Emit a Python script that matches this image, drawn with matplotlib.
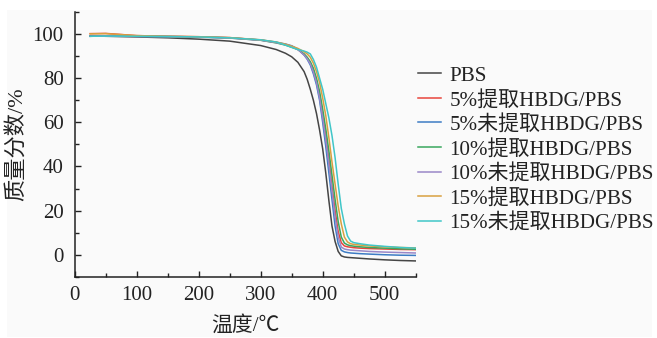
import matplotlib
matplotlib.use("Agg")
import matplotlib.pyplot as plt
from matplotlib.patches import Rectangle

plt.rcParams['font.family'] = ['Liberation Serif', 'Noto Sans CJK SC', 'DejaVu Sans']

# temperature grid (°C)
temp = [25, 50, 100, 150, 200, 250, 300, 325, 340, 350, 360, 370, 375, 380, 385, 390, 395, 400,
        405, 410, 415, 420, 425, 430, 435, 440, 445, 450, 460, 475, 500, 525, 550]

# mass fraction (%)
pbs = [99.2, 99.0, 98.7, 98.3, 97.7, 96.8, 94.8, 93.0, 91.3, 89.7, 87.2, 83.0, 79.5, 75.0, 70.0,
       64.0, 56.5, 48.0, 37.0, 24.5, 13.0, 6.0, 1.5, -0.5, -1.0, -1.2, -1.3, -1.4, -1.6, -1.9,
       -2.3, -2.6, -2.8]
ext5 = [100.2, 100.3, 99.3, 99.0, 98.8, 98.4, 97.3, 96.2, 95.2, 94.4, 93.0, 90.8, 89.2, 87.0,
        83.5, 79.0, 72.0, 63.0, 54.0, 43.0, 31.0, 20.0, 10.5, 5.5, 4.0, 3.6, 3.4, 3.2, 3.0, 2.8,
        2.6, 2.4, 2.3]
unext5 = [99.0, 99.2, 99.0, 98.9, 98.7, 98.3, 97.3, 96.3, 95.5, 94.7, 93.2, 90.5, 88.6, 86.0,
          82.0, 77.0, 70.0, 60.0, 49.0, 37.0, 25.0, 13.0, 5.0, 2.0, 1.3, 1.0, 0.8, 0.7, 0.5, 0.3,
          0.0, -0.2, -0.3]
ext10 = [99.0, 99.1, 99.0, 98.8, 98.6, 98.2, 97.2, 96.0, 95.0, 94.0, 93.0, 91.0, 89.5, 87.5,
         84.5, 80.0, 74.0, 66.0, 57.0, 47.0, 36.0, 25.0, 15.0, 8.0, 5.3, 4.5, 4.1, 3.9, 3.6, 3.3,
         3.0, 2.7, 2.5]
unext10 = [99.0, 99.1, 98.9, 98.8, 98.6, 98.2, 97.2, 96.1, 95.3, 94.5, 93.0, 90.5, 88.8, 86.5,
           82.8, 78.0, 71.0, 62.0, 52.0, 41.0, 29.0, 17.0, 8.0, 3.5, 2.6, 2.3, 2.1, 2.0, 1.8, 1.5,
           1.2, 1.0, 0.8]
ext15 = [100.1, 100.2, 99.3, 99.0, 98.8, 98.4, 97.4, 96.4, 95.4, 94.5, 93.5, 92.0, 91.0, 89.5,
         86.8, 83.0, 78.0, 71.0, 63.0, 53.0, 42.0, 32.0, 22.0, 14.0, 8.0, 5.8, 5.0, 4.7, 4.4, 4.0,
         3.6, 3.3, 3.1]
unext15 = [99.0, 99.1, 99.0, 98.9, 98.7, 98.3, 97.4, 96.4, 95.0, 94.0, 93.0, 92.3, 91.8, 91.0,
           88.5, 85.0, 80.0, 75.0, 68.5, 62.0, 54.0, 44.0, 32.0, 21.0, 14.0, 8.5, 6.2, 5.5, 5.0,
           4.4, 3.8, 3.3, 3.0]

labels = ['PBS', '5%提取HBDG/PBS', '5%未提取HBDG/PBS', '10%提取HBDG/PBS',
          '10%未提取HBDG/PBS', '15%提取HBDG/PBS', '15%未提取HBDG/PBS']
series = [pbs, ext5, unext5, ext10, unext10, ext15, unext15]
colors = ['#454545', '#e8453c', '#3d7cc4', '#3aa75e', '#9a88c8', '#d9a040', '#40c6c8']

fig = plt.figure(figsize=(6.57, 3.38), dpi=100, facecolor='white')
# light grey panel behind the chart
fig.patches.append(Rectangle((7 / 657, 1 / 338), 645 / 657, 327 / 338,
                             transform=fig.transFigure, facecolor='#fafafa',
                             edgecolor='none', zorder=-10))

ax = fig.add_axes([0.1137, 0.181, 0.519, 0.7835])
ax.set_facecolor('none')

for y, lab, c in zip(series, labels, colors):
    ax.plot(temp, y, color=c, lw=1.1, label=lab)

ax.set_xlim(0, 550)
ax.set_ylim(-10, 110)
ax.set_xticks([0, 100, 200, 300, 400, 500])
ax.set_xticks(range(50, 551, 100), minor=True)
ax.set_yticks([0, 20, 40, 60, 80, 100])
ax.set_yticks([-10, 10, 30, 50, 70, 90, 110], minor=True)

for s in ['top', 'right']:
    ax.spines[s].set_visible(False)
for s in ['left', 'bottom']:
    ax.spines[s].set_linewidth(1.1)
    ax.spines[s].set_color('#222222')

ax.tick_params(which='both', direction='in', colors='#222222', labelsize=15, width=1.0)
ax.tick_params(which='major', length=4.5)
ax.tick_params(which='minor', length=3)
ax.tick_params(axis='x', which='major', pad=6.3)
ax.tick_params(axis='y', which='major', pad=8)

ax.set_xlabel('温度/℃', fontsize=15, color='#222222', labelpad=8)
ax.set_ylabel('质量分数/%', fontsize=16, color='#222222', labelpad=3)

ax.legend(loc='upper left', bbox_to_anchor=(0.636, 0.805), bbox_transform=fig.transFigure,
          frameon=False, fontsize=15.1, handlelength=1.1, handletextpad=0.4,
          labelspacing=0.22, borderpad=0, borderaxespad=0, labelcolor='#222222')

fig.savefig('out.png', dpi=100, facecolor=fig.get_facecolor())
